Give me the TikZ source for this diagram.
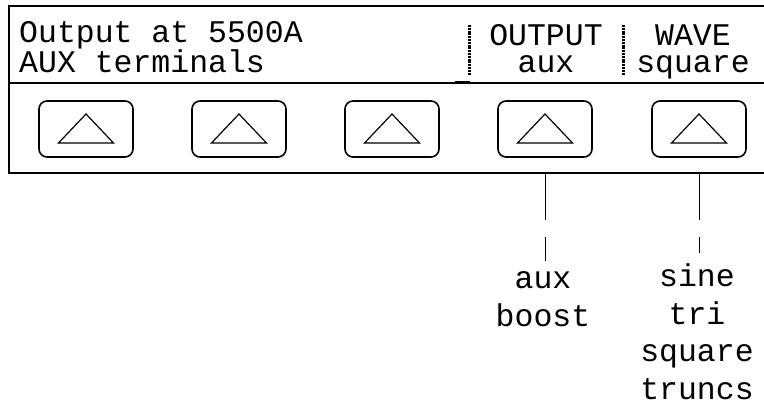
\documentclass[tikz,border=0pt]{standalone}
\usepackage{fontspec}
\newfontfamily\lcdfont{Liberation Mono}
\usetikzlibrary{calc}

\begin{document}
\begin{tikzpicture}[x=1pt, y=-1pt,
    lcd/.style={font=\lcdfont\fontsize{31.5}{27}\selectfont, inner sep=0pt},
    choice/.style={font=\lcdfont\fontsize{31.5}{37.5}\selectfont, inner sep=0pt, align=center, execute at begin node=\strut},
    softkey/.style={draw, rounded corners=8pt, line width=1.6pt, minimum width=94pt, minimum height=56pt},
    pinline/.style={line width=0.8pt, dash pattern=on 47pt off 17pt on 40pt, shorten >=10pt},
    sepbar/.style={line width=3pt, dash pattern=on 2pt off 0.8pt}]
\useasboundingbox (0,0) rectangle (764,404);
% Frame
\coordinate (ftop) at (9,6);
\coordinate (fmid) at (9,83);
\coordinate (fbot) at (9,173);
\draw[line width=2pt] (764,6) -- (ftop) -- (fbot) -- (764,173);
\draw[line width=1.4pt] (fmid) -- (764,83);
\draw[line width=3pt] (455,83) -- (470,83);
\draw[sepbar] (469,25) -- (469,75);
\draw[sepbar] (623,25) -- (623,75);
% Display text
\node[lcd, anchor=base west, align=left] (msg) at (19,73) {Output at 5500A\\AUX terminals};
\node[lcd, anchor=base, align=center] (outfield) at (546,73) {OUTPUT\\aux};
\node[lcd, anchor=base, align=center] (wavefield) at (693,73) {WAVE\\square};
% Softkeys
\node[softkey] (k1) at (86,129) {};
\node[softkey] (k2) at (239,129) {};
\node[softkey] (k3) at (392,129) {};
\node[softkey] (k4) at (545,129) {};
\node[softkey] (k5) at (699,129) {};
\draw[line width=1.2pt] ($(k1)+(-27.5,14)$) -- ++(55,0) -- ++(-27.5,-29) -- cycle;
\draw[line width=1.2pt] ($(k2)+(-27.5,14)$) -- ++(55,0) -- ++(-27.5,-29) -- cycle;
\draw[line width=1.2pt] ($(k3)+(-27.5,14)$) -- ++(55,0) -- ++(-27.5,-29) -- cycle;
\draw[line width=1.2pt] ($(k4)+(-27.5,14)$) -- ++(55,0) -- ++(-27.5,-29) -- cycle;
\draw[line width=1.2pt] ($(k5)+(-27.5,14)$) -- ++(55,0) -- ++(-27.5,-29) -- cycle;
% Choices
\node[choice, anchor=base] (outlist) at (543,326) {aux\\boost};
\node[choice, anchor=base] (wavelist) at (697,399) {sine\\tri\\square\\truncs};
% Edges
\draw[pinline] (k4 |- fbot) -- (k4 |- outlist.north);
\draw[pinline] (k5 |- fbot) -- (k5 |- wavelist.north);
\end{tikzpicture}
\end{document}
